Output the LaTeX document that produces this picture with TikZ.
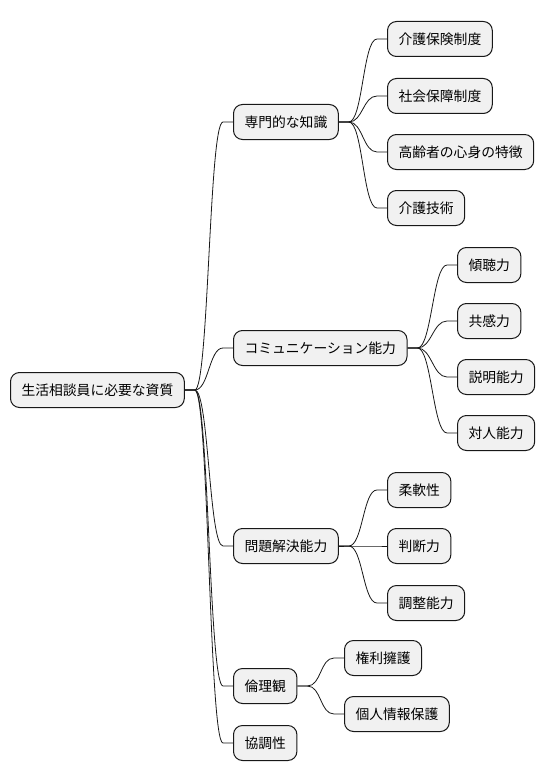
\documentclass[tikz,border=0pt]{standalone}
\usepackage{fontspec}
\newfontfamily\cjk{Noto Sans CJK JP}
\usepackage{xcolor}
\usetikzlibrary{calc}
\definecolor{boxfill}{HTML}{F1F1F1}
\definecolor{ink}{HTML}{181818}

\begin{document}
\begin{tikzpicture}[
  x=1pt, y=-1pt,
  topic/.style={rectangle,draw=ink,fill=boxfill,line width=1pt,rounded corners=9pt,anchor=west,inner xsep=11pt,inner ysep=0pt,minimum height=35pt,font=\cjk\fontsize{13.8}{16}\selectfont},
  branch/.style={draw=ink,line width=0.8pt,to path={-- ++(10,0) .. controls +(14,0) and +(-14,0) .. ($(\tikztotarget)+(-10,0)$) -- (\tikztotarget)}}
]
\useasboundingbox (0,0) rectangle (544,781);

\node[topic] (root) at (10,390) {生活相談員に必要な資質};

\node[topic] (know) at (233,122) {専門的な知識};
\node[topic] (comm) at (233,348) {コミュニケーション能力};
\node[topic] (solve) at (233,546) {問題解決能力};
\node[topic] (ethic) at (233,686) {倫理観};
\node[topic] (coop) at (233,743) {協調性};

\node[topic] (insur) at (387,39) {介護保険制度};
\node[topic] (social) at (387,96) {社会保障制度};
\node[topic] (elder) at (387,152) {高齢者の心身の特徴};
\node[topic] (care) at (387,208) {介護技術};

\node[topic] (listen) at (457,265) {傾聴力};
\node[topic] (empathy) at (457,321) {共感力};
\node[topic] (explain) at (457,377) {説明能力};
\node[topic] (inter) at (457,433) {対人能力};

\node[topic] (flex) at (387,490) {柔軟性};
\node[topic] (judge) at (387,546) {判断力};
\node[topic] (adjust) at (387,603) {調整能力};

\node[topic] (rights) at (344,658) {権利擁護};
\node[topic] (privacy) at (344,714) {個人情報保護};

\foreach \a/\b in {root/know, root/comm, root/solve, root/ethic, root/coop,
  know/insur, know/social, know/elder, know/care,
  comm/listen, comm/empathy, comm/explain, comm/inter,
  solve/flex, solve/judge, solve/adjust,
  ethic/rights, ethic/privacy}
  \draw[branch] (\a.east) to (\b.west);

\end{tikzpicture}
\end{document}
